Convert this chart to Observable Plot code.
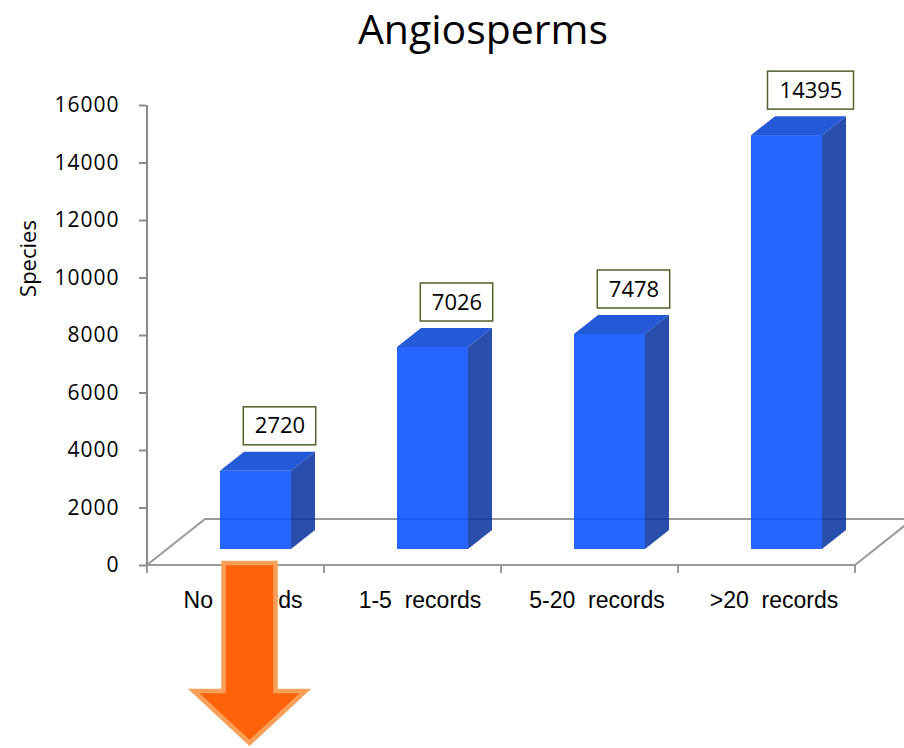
<!DOCTYPE html>
<html>
<head>
<meta charset="utf-8">
<script src="https://cdn.jsdelivr.net/npm/d3@7"></script>
<script src="https://cdn.jsdelivr.net/npm/@observablehq/plot@0.6"></script>
<style>
  html, body { margin: 0; padding: 0; background: #ffffff; }
  #title { height: 56px; line-height: 56px; font-family: "Open Sans", sans-serif; font-size: 41px; color: #000; text-align: center; padding-left: 62px; box-sizing: border-box; width: 904px; overflow: visible; white-space: nowrap; }
  #chart svg { display: block; }
  #chart g[aria-label="y-axis tick label"] text { letter-spacing: 1px; }
</style>
</head>
<body>
<div id="title"></div>
<div id="chart"></div>
<script>
// ---- data ----
const chartTitle = "Angiosperms";
const yLabel = "Species";
const categories = ["No  records", "1-5  records", "5-20  records", ">20  records"];
const species = [2720, 7026, 7478, 14395];
const yTicks = [0, 2000, 4000, 6000, 8000, 10000, 12000, 14000, 16000];

const data = categories.map((c, i) => ({category: c, species: species[i]}));

document.getElementById("title").textContent = chartTitle;

// 3D look offsets (pixels)
const faceDX = 20, faceDY = -16;     // bar front face offset into the floor
const depthDX = 24, depthDY = -19;   // bar depth
const floorDX = 58, floorDY = -46;   // floor depth
const labelDY = -45;                 // label above bar top

function custom(draw) {
  return (index, scales, values, dims) => {
    const g = d3.create("svg:g");
    draw(g, scales, dims);
    return g.node();
  };
}
function bandwidthOf(scales) {
  const x = scales.x;
  if (x && typeof x.bandwidth === "function") return x.bandwidth();
  return scales.scales.x.bandwidth;
}
function stepOf(scales) {
  return scales.x(categories[1]) - scales.x(categories[0]);
}

// floor + axis lines
const floorMark = custom((g, s, dims) => {
  const step = stepOf(s);
  const bw = bandwidthOf(s);
  const pad = (step - bw) / 2;
  const left = s.x(categories[0]) - pad;
  const right = s.x(categories[categories.length - 1]) + bw + pad;
  const y0 = s.y(0);
  const stroke = "#9a9a9a";
  g.append("path")
    .attr("d", `M${left},${y0}L${left + floorDX},${y0 + floorDY}L${right + floorDX},${y0 + floorDY}L${right},${y0}`)
    .attr("fill", "none").attr("stroke", stroke).attr("stroke-width", 2);
  g.append("line").attr("x1", left).attr("x2", left)
    .attr("y1", s.y(yTicks[yTicks.length - 1])).attr("y2", y0 + 1)
    .attr("stroke", "#8a8a8a").attr("stroke-width", 2);
  g.append("line").attr("x1", left).attr("x2", right).attr("y1", y0).attr("y2", y0)
    .attr("stroke", stroke).attr("stroke-width", 2);
  for (let i = 0; i <= categories.length; i++) {
    const xx = left + i * step;
    g.append("line").attr("x1", xx).attr("x2", xx).attr("y1", y0).attr("y2", y0 + 8)
      .attr("stroke", stroke).attr("stroke-width", 2);
  }
});

// top + side faces of the bars
const depthMark = custom((g, s) => {
  const bw = bandwidthOf(s);
  data.forEach(d => {
    const x0 = s.x(d.category) + faceDX;
    const x1 = x0 + bw;
    const yt = s.y(d.species) + faceDY;
    const yb = s.y(0) + faceDY;
    g.append("path")
      .attr("d", `M${x0},${yt}L${x1},${yt}L${x1 + depthDX},${yt + depthDY}L${x0 + depthDX},${yt + depthDY}Z`)
      .attr("fill", "#0C47D4").attr("fill-opacity", 0.9);
    g.append("path")
      .attr("d", `M${x1},${yt}L${x1 + depthDX},${yt + depthDY}L${x1 + depthDX},${yb + depthDY}L${x1},${yb}Z`)
      .attr("fill", "#0B35A1").attr("fill-opacity", 0.88);
  });
});

// label boxes
const boxMark = custom((g, s) => {
  const bw = bandwidthOf(s);
  data.forEach(d => {
    const cx = s.x(d.category) + bw / 2 + faceDX + depthDX;
    const cy = s.y(d.species) + faceDY + labelDY;
    const w = String(d.species).length * 13.6 + 18;
    const h = 38;
    g.append("rect").attr("x", cx - w / 2).attr("y", cy - h / 2).attr("width", w).attr("height", h)
      .attr("fill", "#ffffff").attr("stroke", "#4F6228").attr("stroke-width", 1.5);
  });
});

// orange arrow under first category
const arrowMark = custom((g, s) => {
  const bw = bandwidthOf(s);
  const cx = s.x(categories[0]) + bw / 2 + 14;
  const y0 = s.y(0);
  const sw = 26, hw = 56;
  const top = y0 - 2, base = y0 + 126, tip = y0 + 178;
  g.append("path")
    .attr("d", `M${cx - sw},${top}L${cx + sw},${top}L${cx + sw},${base}L${cx + hw},${base}L${cx},${tip}L${cx - hw},${base}L${cx - sw},${base}Z`)
    .attr("fill", "#FF6309").attr("stroke", "#F8A05A").attr("stroke-width", 4.5).attr("stroke-linejoin", "miter");
});

const chart = Plot.plot({
  width: 904,
  height: 692,
  marginLeft: 146,
  marginRight: 49,
  marginTop: 49,
  marginBottom: 183,
  style: {fontFamily: "Open Sans, sans-serif", background: "#ffffff", color: "#000"},
  x: {domain: categories, paddingInner: 0.6, paddingOuter: 0.3, axis: null},
  y: {domain: [0, 16000], axis: null},
  marks: [
    floorMark,
    Plot.axisY({ticks: yTicks, tickSize: 7, tickPadding: 20, stroke: "#8a8a8a", strokeWidth: 2,
      fontSize: 21, label: null, tickFormat: d => String(d), fill: "#000"}),
    Plot.text([yLabel], {frameAnchor: "left", textAnchor: "middle", rotate: -90, dx: -118, dy: -77,
      fontSize: 22, fill: "#000", fontFamily: "Open Sans, sans-serif"}),
    Plot.barY(data, {x: "category", y: "species", dx: faceDX, dy: faceDY, fill: "#0E55FF", fillOpacity: 0.9}),
    depthMark,
    boxMark,
    Plot.text(data, {x: "category", y: "species", text: d => String(d.species), dx: faceDX + depthDX,
      dy: faceDY + labelDY, fontSize: 22, fill: "#000", fontFamily: "Open Sans, sans-serif"}),
    Plot.text(data, {x: "category", y: () => 0, text: d => d.category.replace(/ /g, "\u00a0"), dx: 7, dy: 35,
      fontSize: 23, fill: "#000", fontFamily: "Liberation Sans, Arial, sans-serif"}),
    arrowMark
  ]
});
document.getElementById("chart").appendChild(chart);
</script>
</body>
</html>
